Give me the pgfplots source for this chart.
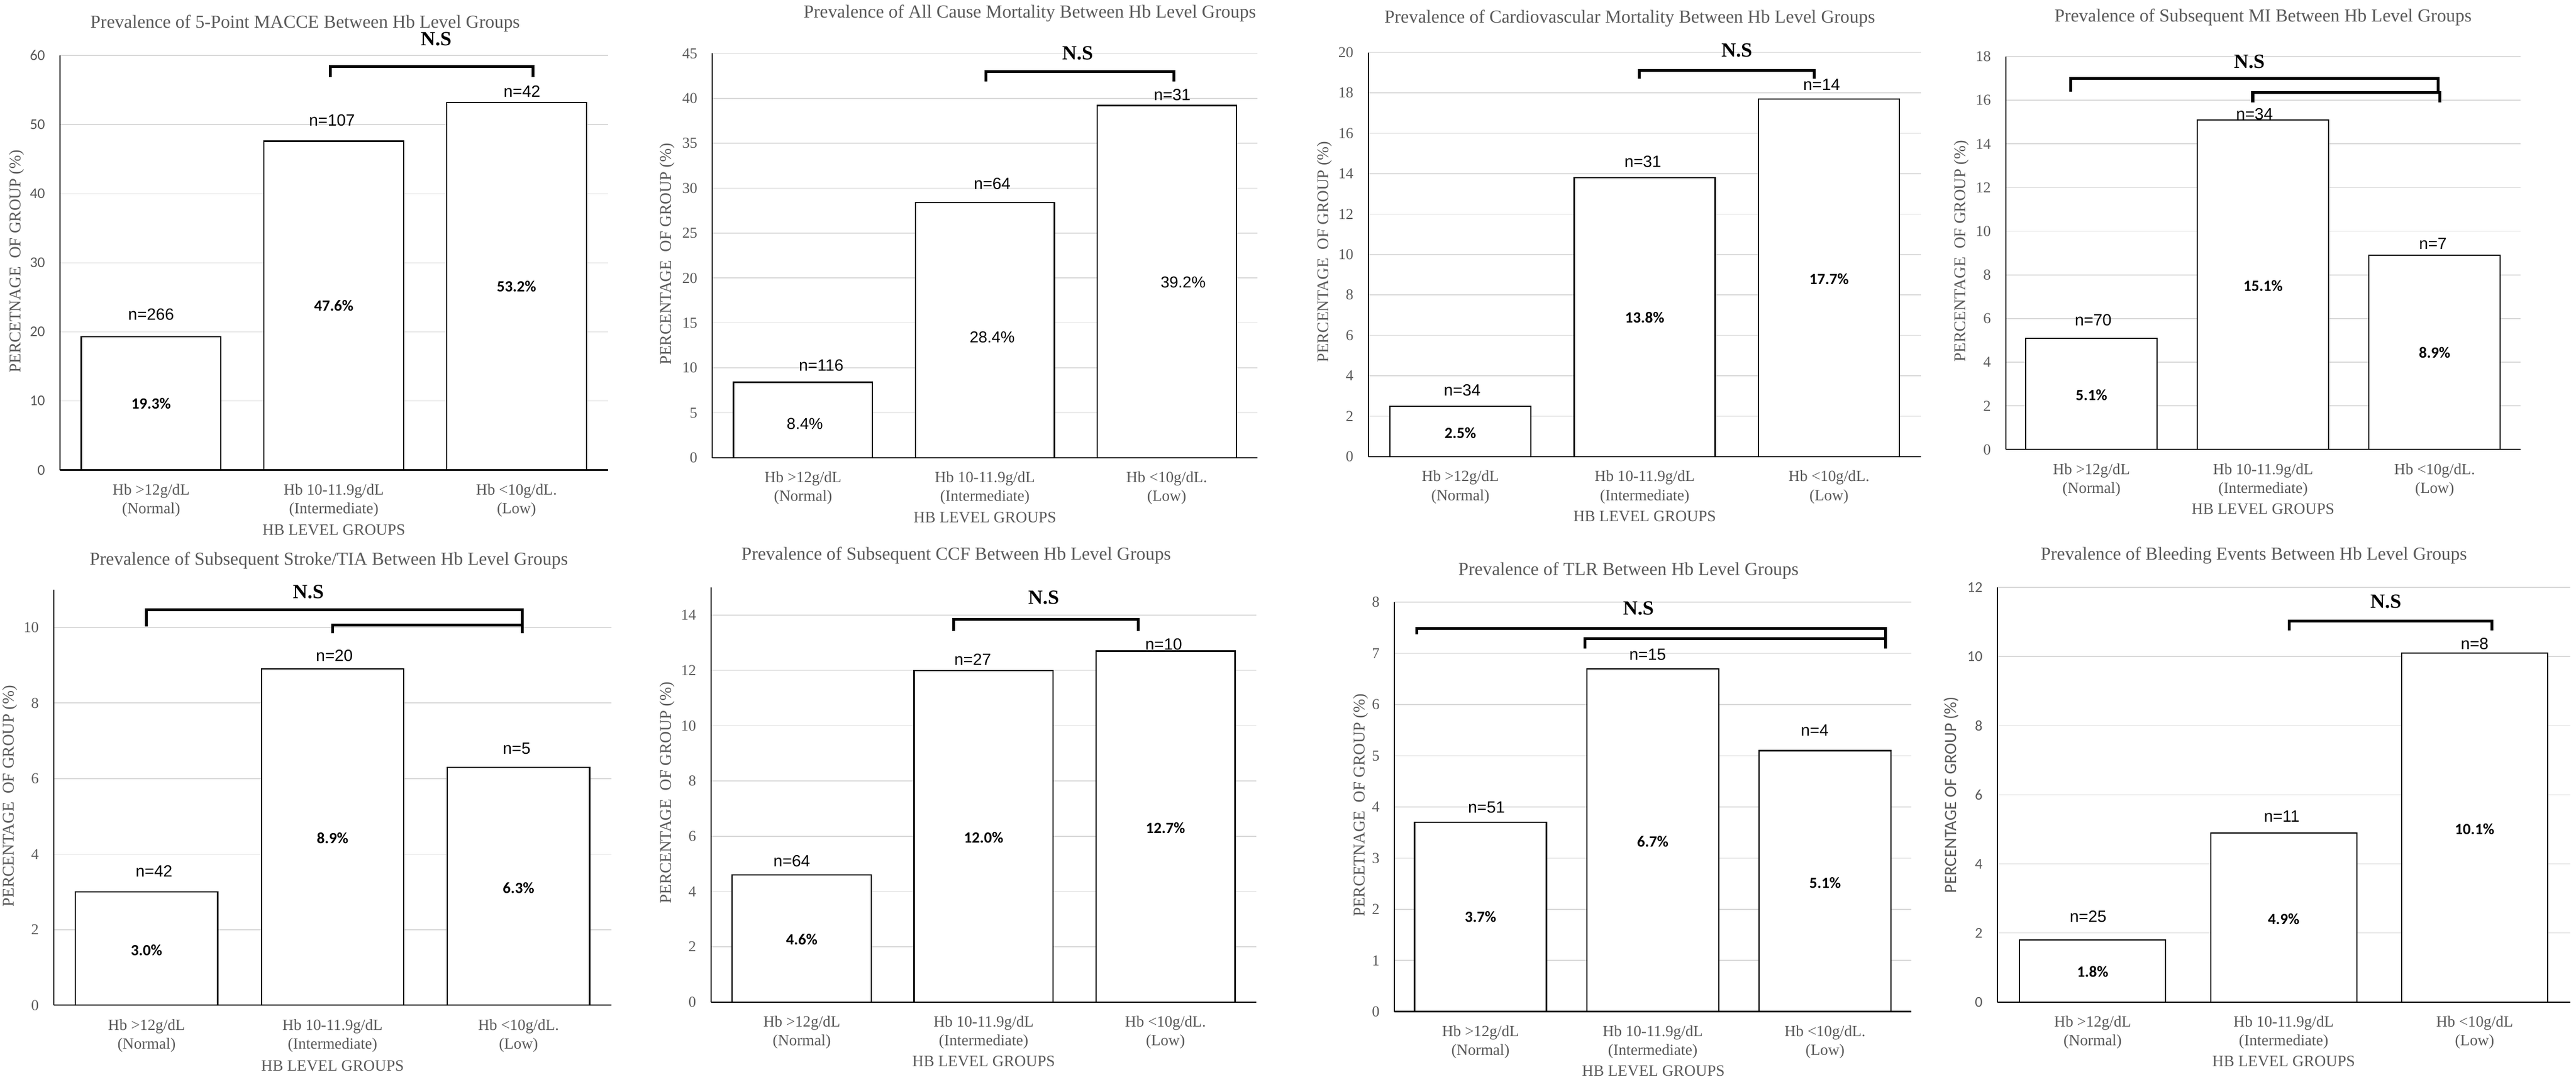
\documentclass[border=0pt]{standalone}
\usepackage{fontspec}
\usepackage{pgfplots}
\pgfplotsset{compat=1.18}
\newfontfamily\serif{Liberation Serif}
\newfontfamily\calib{Carlito}
\newfontfamily\arial{Liberation Sans}
\definecolor{txtgray}{HTML}{595959}
\definecolor{gridgray}{HTML}{D9D9D9}
\pgfplotsset{
 panel/.style={
  scale only axis, anchor=south west,
  xmin=-0.5, xmax=2.5, ymin=0,
  axis x line=bottom, axis y line=left,
  axis line style={-, line width=0.55pt, black},
  xtick={0,1,2}, major tick length=0pt,
  ymajorgrids, grid style={line width=0.4pt, color=gridgray},
  /pgf/number format/assume math mode=true,
  xticklabel style={align=center, font=\serif\fontsize{6.9}{8.3}\selectfont, text=txtgray, anchor=north, inner sep=0pt, yshift=-6pt},
  yticklabel style={font=\serif\fontsize{6.7}{7}\selectfont, text=txtgray, anchor=east, inner sep=0pt, xshift=-6.3pt},
  ybar, bar width=0.765, clip=false,
  every axis plot post/.append style={fill=white, draw=black, line width=0.55pt},
  xticklabels={{Hb >12g/dL\\(Normal)},{Hb 10-11.9g/dL\\(Intermediate)},{Hb <10g/dL.\\(Low)}},
 },
 sansticks/.style={yticklabel style={font=\calib\fontsize{6.6}{7}\selectfont}},
}
\tikzset{
 nlab/.style={font=\arial\fontsize{7.2}{7.2}\selectfont, text=black, inner sep=0pt},
 ilab/.style={font=\calib\bfseries\fontsize{6.9}{7}\selectfont, text=black, inner sep=0pt},
 rlab/.style={font=\arial\fontsize{7}{7}\selectfont, text=black, inner sep=0pt},
 ns/.style={font=\serif\bfseries\fontsize{8.9}{9}\selectfont, text=black, inner sep=0pt},
 br/.style={line width=1.3pt, black},
 ttl/.style={font=\serif\fontsize{8.1}{8.1}\selectfont, text=txtgray, inner sep=0pt},
 ylab/.style={font=\serif\fontsize{7.2}{7.2}\selectfont, text=txtgray, inner sep=0pt, rotate=90},
 xlab/.style={font=\serif\fontsize{7}{7}\selectfont, text=txtgray, inner sep=0pt},
}
\begin{document}
\begin{tikzpicture}
\path[use as bounding box] (0,0) rectangle (1137.5pt,478pt);

% ---------- Panel 1: 5-point MACCE
\begin{axis}[panel, sansticks, at={(26.4pt,270.35pt)}, width=242pt, height=183.1pt, ymax=60, ytick={0,10,...,60}]
\addplot coordinates {(0,19.3) (1,47.6) (2,53.2)};
\node[nlab] at (axis cs:0,22.5) {n=266};
\node[nlab] at (axis cs:0.99,50.6) {n=107};
\node[nlab] at (axis cs:2.03,54.8) {n=42};
\node[ilab] at (axis cs:0,9.65) {19.3\%};
\node[ilab] at (axis cs:1,23.8) {47.6\%};
\node[ilab] at (axis cs:2,26.6) {53.2\%};
\draw[br] (axis cs:0.98,56.9) -- (axis cs:0.98,58.4) -- (axis cs:2.09,58.4) -- (axis cs:2.09,56.9);
\node[ns] at (axis cs:1.56,62.4) {N.S};
\end{axis}

% ---------- Panel 2: all cause mortality
\begin{axis}[panel, at={(314.45pt,275.8pt)}, width=240.9pt, height=178.6pt, ymax=45, ytick={0,5,...,45}]
\addplot coordinates {(0,8.4) (1,28.4) (2,39.2)};
\node[nlab] at (axis cs:0.10,10.3) {n=116};
\node[nlab] at (axis cs:1.04,30.5) {n=64};
\node[nlab] at (axis cs:2.03,40.4) {n=31};
\node[rlab] at (axis cs:0.01,3.8) {8.4\%};
\node[rlab] at (axis cs:1.04,13.4) {28.4\%};
\node[rlab] at (axis cs:2.09,19.5) {39.2\%};
\draw[br] (axis cs:1.007,41.9) -- (axis cs:1.007,43.0) -- (axis cs:2.04,43.0) -- (axis cs:2.04,41.9);
\node[ns] at (axis cs:1.51,45.0) {N.S};
\end{axis}

% ---------- Panel 3: cardiovascular mortality
\begin{axis}[panel, at={(604.15pt,276.25pt)}, width=244.2pt, height=178.6pt, ymax=20, ytick={0,2,...,20}]
\addplot coordinates {(0,2.5) (1,13.8) (2,17.7)};
\node[nlab] at (axis cs:0.01,3.3) {n=34};
\node[nlab] at (axis cs:0.99,14.6) {n=31};
\node[nlab] at (axis cs:1.96,18.4) {n=14};
\node[ilab] at (axis cs:0,1.17) {2.5\%};
\node[ilab] at (axis cs:1,6.87) {13.8\%};
\node[ilab] at (axis cs:2,8.8) {17.7\%};
\draw[br] (axis cs:0.97,18.7) -- (axis cs:0.97,19.1) -- (axis cs:1.92,19.1) -- (axis cs:1.92,18.7);
\node[ns] at (axis cs:1.5,20.1) {N.S};
\end{axis}

% ---------- Panel 4: subsequent MI
\begin{axis}[panel, at={(885.65pt,279.4pt)}, width=227.3pt, height=173.6pt, ymax=18, ytick={0,2,...,18}]
\addplot coordinates {(0,5.1) (1,15.1) (2,8.9)};
\node[nlab] at (axis cs:0.01,5.94) {n=70};
\node[nlab] at (axis cs:0.95,15.36) {n=34};
\node[nlab] at (axis cs:1.99,9.42) {n=7};
\node[ilab] at (axis cs:0,2.5) {5.1\%};
\node[ilab] at (axis cs:1,7.5) {15.1\%};
\node[ilab] at (axis cs:2,4.43) {8.9\%};
\draw[br] (axis cs:-0.12,16.4) -- (axis cs:-0.12,17.0) -- (axis cs:2.02,17.0) -- (axis cs:2.02,16.35);
\draw[br] (axis cs:0.94,15.9) -- (axis cs:0.94,16.35) -- (axis cs:2.03,16.35) -- (axis cs:2.03,15.9);
\node[ns] at (axis cs:0.92,17.76) {N.S};
\end{axis}

% ---------- Panel 5: stroke/TIA
\begin{axis}[panel, at={(23.65pt,33.9pt)}, width=246.4pt, height=183.6pt, ymax=11, ytick={0,2,...,10}]
\addplot coordinates {(0,3.0) (1,8.9) (2,6.3)};
\node[nlab] at (axis cs:0.04,3.55) {n=42};
\node[nlab] at (axis cs:1.01,9.25) {n=20};
\node[nlab] at (axis cs:1.99,6.8) {n=5};
\node[ilab] at (axis cs:0,1.46) {3.0\%};
\node[ilab] at (axis cs:1,4.43) {8.9\%};
\node[ilab] at (axis cs:2,3.1) {6.3\%};
\draw[br] (axis cs:0,10.03) -- (axis cs:0,10.47) -- (axis cs:2.02,10.47) -- (axis cs:2.02,9.84);
\draw[br] (axis cs:1.0,9.84) -- (axis cs:1.0,10.06) -- (axis cs:2.02,10.06);
\node[ns] at (axis cs:0.87,10.94) {N.S};
\end{axis}

% ---------- Panel 6: CCF
\begin{axis}[panel, at={(313.9pt,35.3pt)}, width=240.9pt, height=183.15pt, ymax=15, ytick={0,2,...,14}]
\addplot coordinates {(0,4.6) (1,12.0) (2,12.7)};
\node[nlab] at (axis cs:-0.055,5.1) {n=64};
\node[nlab] at (axis cs:0.94,12.4) {n=27};
\node[nlab] at (axis cs:1.99,12.94) {n=10};
\node[ilab] at (axis cs:0,2.26) {4.6\%};
\node[ilab] at (axis cs:1,5.96) {12.0\%};
\node[ilab] at (axis cs:2,6.3) {12.7\%};
\draw[br] (axis cs:0.836,13.43) -- (axis cs:0.836,13.85) -- (axis cs:1.85,13.85) -- (axis cs:1.85,13.43);
\node[ns] at (axis cs:1.33,14.64) {N.S};
\end{axis}

% ---------- Panel 7: TLR
\begin{axis}[panel, at={(615.7pt,31.1pt)}, width=228.25pt, height=180.85pt, ymax=8, ytick={0,1,...,8}]
\addplot coordinates {(0,3.7) (1,6.7) (2,5.1)};
\node[nlab] at (axis cs:0.035,3.99) {n=51};
\node[nlab] at (axis cs:0.97,6.98) {n=15};
\node[nlab] at (axis cs:1.94,5.5) {n=4};
\node[ilab] at (axis cs:0,1.85) {3.7\%};
\node[ilab] at (axis cs:1,3.32) {6.7\%};
\node[ilab] at (axis cs:2,2.52) {5.1\%};
\draw[br] (axis cs:-0.37,7.37) -- (axis cs:-0.37,7.49) -- (axis cs:2.35,7.49) -- (axis cs:2.35,7.1);
\draw[br] (axis cs:0.606,7.1) -- (axis cs:0.606,7.29) -- (axis cs:2.35,7.29);
\node[ns] at (axis cs:0.917,7.88) {N.S};
\end{axis}

% ---------- Panel 8: bleeding
\begin{axis}[panel, sansticks, at={(881.9pt,35.3pt)}, width=253pt, height=183.15pt, ymax=12, ytick={0,2,...,12},
  xticklabels={{Hb >12g/dL\\(Normal)},{Hb 10-11.9g/dL\\(Intermediate)},{Hb <10g/dL\\(Low)}}]
\addplot coordinates {(0,1.8) (1,4.9) (2,10.1)};
\node[nlab] at (axis cs:-0.024,2.47) {n=25};
\node[nlab] at (axis cs:0.99,5.37) {n=11};
\node[nlab] at (axis cs:2.0,10.37) {n=8};
\node[ilab] at (axis cs:0,0.88) {1.8\%};
\node[ilab] at (axis cs:1,2.41) {4.9\%};
\node[ilab] at (axis cs:2,5.0) {10.1\%};
\draw[br] (axis cs:1.03,10.76) -- (axis cs:1.03,11.03) -- (axis cs:2.09,11.03) -- (axis cs:2.09,10.76);
\node[ns] at (axis cs:1.535,11.6) {N.S};
\end{axis}

% ---------- titles and axis titles (pixel coordinates of the reference)
\begin{scope}[shift={(0pt,478pt)}, x=0.25pt, y=-0.25pt]
\node[ttl] at (539,41.8) {Prevalence of 5-Point MACCE Between Hb Level Groups};
\node[ttl] at (1818.8,23.6) {Prevalence of All Cause Mortality Between Hb Level Groups};
\node[ttl] at (2878.6,32.7) {Prevalence of Cardiovascular Mortality Between Hb Level Groups};
\node[ttl] at (3997.2,30.9) {Prevalence of Subsequent MI Between Hb Level Groups};
\node[ttl] at (580.8,990.5) {Prevalence of Subsequent Stroke/TIA Between Hb Level Groups};
\node[ttl] at (1689,981.3) {Prevalence of Subsequent CCF Between Hb Level Groups};
\node[ttl] at (2876.4,1008.9) {Prevalence of TLR Between Hb Level Groups};
\node[ttl] at (3980.8,981.3) {Prevalence of Bleeding Events Between Hb Level Groups};

\node[ylab] at (30,461.7) {PERCETNAGE\ \ OF GROUP (\%)};
\node[ylab] at (1178.6,449) {PERCENTAGE\ \ OF GROUP (\%)};
\node[ylab] at (2339.6,445.3) {PERCENTAGE\ \ OF GROUP (\%)};
\node[ylab] at (3464.7,443.5) {PERCENTAGE\ \ OF GROUP (\%)};
\node[ylab] at (17.6,1406.5) {PERCENTAGE\ \ OF GROUP (\%)};
\node[ylab] at (1178.6,1400.9) {PERCENTAGE\ \ OF GROUP (\%)};
\node[ylab] at (2403.4,1423) {PERCETNAGE\ \ OF GROUP (\%)};
\node[ylab, font=\calib\fontsize{7.6}{7.6}\selectfont] at (3446.2,1404.6) {PERCENTAGE OF GROUP (\%)};

\node[xlab] at (589.6,936.1) {HB LEVEL GROUPS};
\node[xlab] at (1739.6,914.3) {HB LEVEL GROUPS};
\node[xlab] at (2905,912.4) {HB LEVEL GROUPS};
\node[xlab] at (3997.2,899.7) {HB LEVEL GROUPS};
\node[xlab] at (587.4,1883.2) {HB LEVEL GROUPS};
\node[xlab] at (1737.4,1875.8) {HB LEVEL GROUPS};
\node[xlab] at (2920.4,1892.4) {HB LEVEL GROUPS};
\node[xlab] at (4033.6,1875.8) {HB LEVEL GROUPS};
\end{scope}
\end{tikzpicture}
\end{document}
